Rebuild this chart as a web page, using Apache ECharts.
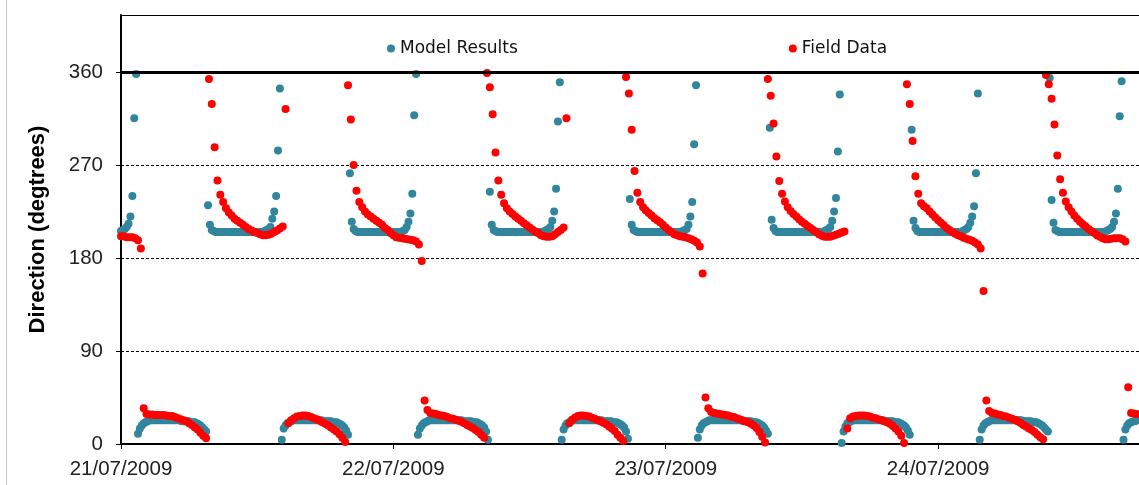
<!DOCTYPE html>
<html><head><meta charset="utf-8">
<script src="https://cdn.jsdelivr.net/npm/echarts@6/dist/echarts.min.js"></script>
<style>html,body{margin:0;padding:0;background:#fff}#c{width:1139px;height:485px}</style>
</head><body><div id="c"></div>
<script>
// X axis: hours since 21/07/2009 00:00
const dateLabels = ['21/07/2009', '22/07/2009', '23/07/2009', '24/07/2009'];
const xTicks = [0, 24, 48, 72];
const yTicks = [0, 90, 180, 270, 360];

// Model results: 10-minute samples, each phase starts at the hour given
const modelStepH = 10 / 60;
const modelPhaseStart = [0, 1.5, 7.667, 14.167, 20.167, 26.167, 32.5, 38.833, 44.833, 50.833, 57.167, 63.5, 69.667, 75.667, 81.833, 88.333];
const modelU0 = [206,207,208,210,213,220,240,315,358];
const modelL1 = [10,15,18,20,21,22, 23,23,23,23,23,23,23,23,23,23, 23,23,23,23,23,23,23, 22,22,22,22,22, 21,21,21, 20,19,18,16,14,12];
const modelU1 = [231,212,207,206, 205,205,205,205,205,205,205,205,205,205, 205,205,205,205,205,205,205,205,205,205, 205,205,205,205,205,205, 206,207,208,210,218,225,240,284,344];
const modelL2 = [4,15,18,20,21,22, 23,23,23,23,23,23,23,23,23,23, 23,23,23,23,23,23, 22,22,22,22,22, 21,21,21, 20,19,18,16,13,9];
const modelU2 = [262,215,208,206, 205,205,205,205,205,205,205,205,205,205, 205,205,205,205,205,205,205,205,205,205, 205,205,205,205, 206,207,210,215,223,242,318,358];
const modelL3 = [9,15,18,20,21,22, 23,23,23,23,23,23,23,23,23,23, 23,23,23,23,23,23,23,23, 22,22,22,22,22, 21,21,21, 20,19,18,16,12,4];
const modelU3 = [244,212,207,206, 205,205,205,205,205,205,205,205,205,205, 205,205,205,205,205,205,205,205,205,205, 205,205,205,205,205, 206,207,208,210,216,225,247,312,350];
const modelL4 = [4,14,18,20,21,22, 23,23,23,23,23,23,23,23,23,23, 23,23,23,23,23,23, 22,22,22,22,22, 21,21,21, 20,19,18,16,12,5];
const modelU4 = [237,212,207,206, 205,205,205,205,205,205,205,205,205,205, 205,205,205,205,205,205,205,205,205,205, 205,205,205,205, 206,207,208,212,220,234,290,347];
const modelL5 = [6,14,18,20,21,22, 23,23,23,23,23,23,23,23,23,23, 23,23,23,23,23,23,23,23, 22,22,22,22,22, 21,21,21, 20,19,18,16,13,10];
const modelU5 = [306,217,209,206, 205,205,205,205,205,205,205,205,205,205, 205,205,205,205,205,205,205,205,205,205, 205,205,205,205,205, 206,207,208,210,216,225,238,283,338];
const modelL6 = [1,12,17,20,21,22, 23,23,23,23,23,23,23,23,23,23, 23,23,23,23,23,23,23, 22,22,22,22,22, 21,21,21, 20,19,18,16,13,9];
const modelU6 = [304,216,209,206, 205,205,205,205,205,205,205,205,205,205, 205,205,205,205,205,205,205,205,205,205, 205,205,205, 206,207,208,210,214,220,230,262,339];
const modelL7 = [4,14,18,20,21,22, 23,23,23,23,23,23,23,23,23,23, 23,23,23,23,23,23,23, 22,22,22,22,22, 21,21,21, 20,19,18,16,14,12];
const modelU7 = [354,236,214,207,206, 205,205,205,205,205,205,205,205,205,205, 205,205,205,205,205,205,205,205,205,205, 205,205,205,205,205, 206,207,208,210,215,223,247,317,351];
const modelL8 = [4,14,18,20,21,22,22,23];

// Field data: 15-minute samples, each phase starts at the hour given
const fieldStepH = 0.25;
const fieldPhaseStart = [0, 2, 7.75, 14.75, 20, 26.75, 32.25, 39.5, 44.5, 51.5, 57, 64, 69.25, 76.25, 81.5, 88.75];
const fieldU0 = [201,201,200,200,200,199,197,189];
const fieldL1 = [34.5,29,28.5,28.5,28,28,28,28,27.5,27,27,26,25,24,23,22,20,18.5,16,14,11,8,5.5];
const fieldU1 = [353,329,287,255,241,234,228,224,221,218,216,214,212,210,208,206.5,205,204,203,202,202,202.5,203.5,205,206.5,208.5,210.5,324];
const fieldL2 = [20,23,25,26.5,27,27.5,27.5,27,26,25,24,22.5,21,19.5,18,16,14,12,9.5,6,2];
const fieldU2 = [347,314,270,245,234,229,225,222,220,218,216,214,212,209,207,204,202,200,199.5,199,198.5,198,197.5,197,196,193,177];
const fieldL3 = [42,33,30,29.5,29,28,27.5,27,26,25,24.5,23.5,22.5,21.5,20,18.5,17,15.5,13.5,11.5,9,6];
const fieldU3 = [359,345,319,282,255,241,233,228,225,222.5,220,218,216,213.5,211.5,209.5,207.5,205.5,204,202,201,200.5,200.5,201,203,205,207,209.5,315];
const fieldL4 = [20,23.5,25.5,27,27.5,27.5,27,26.5,25.5,24.5,23,22,20.5,19,17,15,12.5,9,6,3];
const fieldU4 = [355,339,304,264,243,234,229,226,223.5,221,218.5,216.5,214.5,212,209.5,207,205,203,202,201,200.5,200,199,198,196.5,195,191,165];
const fieldL5 = [45,34.5,31,30,29.5,29,28.5,28,27.5,26.5,26,25,24,23,22,21,19.5,18,15.5,11.5,7,1.5];
const fieldU5 = [353,337,310,278,254.5,242,234.5,229,225.5,222.5,220,217.5,215,213,211,209,207,205,203,201.5,200.5,200.5,200.5,201.5,202.5,203.5,204.5,205.5];
const fieldL6 = [15,25,26.5,27,27.5,27.5,27.5,27,26.5,25.5,25,24,23,22,21,19.5,17.5,15,12,8,1];
const fieldU6 = [348,329,293,259,242,233,230,228,225,222,219,216.5,214,211.5,209,207,205,203.5,202,201,199.5,198.5,197.5,196.5,195,193,189,148];
const fieldL7 = [42,32,30,29.5,28.5,28,27,26.5,25.5,24.5,23.5,22,20.5,18.5,17,15,13.5,11.5,9,6.5,4.5];
const fieldU7 = [357,348,334,309,279,256,243,234.5,229,225,221,218,215,212.5,210.5,208,206,204,202,200.5,199,198,198,198.5,199,199,199,198,196];
const fieldL8 = [55,30,29.5,29];

const modelPhases = [modelU0, modelL1, modelU1, modelL2, modelU2, modelL3, modelU3, modelL4, modelU4, modelL5, modelU5, modelL6, modelU6, modelL7, modelU7, modelL8];
const fieldPhases = [fieldU0, fieldL1, fieldU1, fieldL2, fieldU2, fieldL3, fieldU3, fieldL4, fieldU4, fieldL5, fieldU5, fieldL6, fieldU6, fieldL7, fieldU7, fieldL8];

function build(phases, starts, step) {
  const out = [];
  phases.forEach((arr, p) => arr.forEach((v, k) => out.push([starts[p] + k * step, v])));
  return out;
}
const modelData = build(modelPhases, modelPhaseStart, modelStepH);
const fieldData = build(fieldPhases, fieldPhaseStart, fieldStepH);

const chart = echarts.init(document.getElementById('c'), null, {renderer: 'canvas'});
chart.setOption({
  animation: false,
  backgroundColor: '#fff',
  grid: {left: 121, right: 0, top: 15, bottom: 41},
  graphic: [{type: 'line', shape: {x1: 6.5, y1: 0, x2: 6.5, y2: 485}, style: {stroke: '#c8c8c8', lineWidth: 1}}],
  legend: {
    left: 382, top: 35, itemGap: 271, itemWidth: 8, itemHeight: 8, icon: 'circle',
    textStyle: {fontFamily: 'DejaVu Sans', fontSize: 17, color: '#111'},
    data: ['Model Results', 'Field Data']
  },
  xAxis: [{
    type: 'value', min: 0, max: 89.7, interval: 24,
    axisLine: {show: true, onZero: false, lineStyle: {color: '#000', width: 2}},
    axisTick: {show: true, length: 5, customValues: xTicks, lineStyle: {color: '#000', width: 1}},
    axisLabel: {margin: 15, customValues: xTicks, fontFamily: 'Liberation Sans', fontSize: 20.5, color: '#222',
      formatter: v => dateLabels[Math.round(v / 24)] || ''},
    splitLine: {show: false}
  }, {
    type: 'value', position: 'top', min: 0, max: 89.7,
    axisLine: {show: true, onZero: false, lineStyle: {color: '#000', width: 1}},
    axisTick: {show: false}, axisLabel: {show: false}, splitLine: {show: false}
  }],
  yAxis: {
    type: 'value', min: 0, max: 415, interval: 90,
    name: 'Direction (degtrees)', nameLocation: 'middle', nameRotate: 90, nameGap: 72,
    nameTextStyle: {fontFamily: 'Liberation Sans', fontWeight: 'bold', fontSize: 22, color: '#000'},
    axisLine: {show: true, lineStyle: {color: '#000', width: 2}},
    axisTick: {show: true, length: 5, customValues: yTicks, lineStyle: {color: '#000', width: 1}},
    axisLabel: {margin: 18, customValues: yTicks, fontFamily: 'Liberation Sans', fontSize: 20.5, color: '#222'},
    splitLine: {show: true, lineStyle: {color: '#000', width: 1, type: [3, 2]}}
  },
  series: [{
    name: 'Model Results', type: 'scatter', data: modelData, symbol: 'circle', symbolSize: 8, clip: false,
    itemStyle: {color: '#31859C', opacity: 1}, z: 2,
    markLine: {silent: true, symbol: ['none', 'none'], label: {show: false}, animation: false,
      lineStyle: {color: '#000', width: 3, type: 'solid'}, emphasis: {disabled: true}, data: [{yAxis: 360}]}
  }, {
    name: 'Field Data', type: 'scatter', data: fieldData, symbol: 'circle', symbolSize: 8, clip: false,
    itemStyle: {color: '#FF0000', opacity: 1}, z: 3
  }]
});
</script></body></html>
